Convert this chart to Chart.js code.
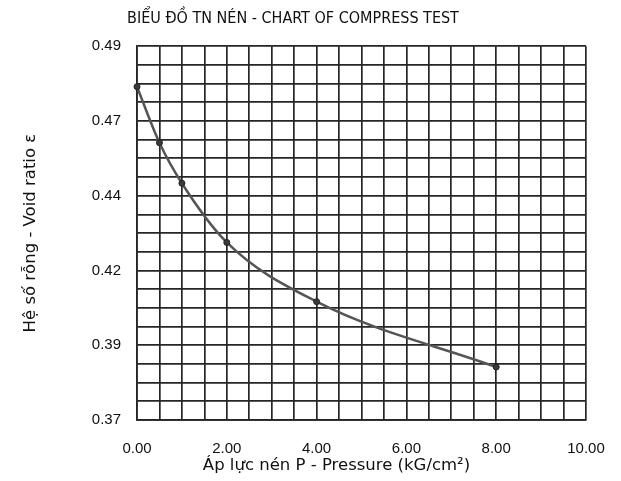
<!DOCTYPE html>
<html>
<head>
<meta charset="utf-8">
<script src="https://cdn.jsdelivr.net/npm/chart.js@4"></script>
<style>
  html, body { margin: 0; padding: 0; background: #fff; }
  #wrap { width: 621px; height: 481px; }
</style>
</head>
<body>
<div id="wrap"><canvas id="c" width="621" height="481"></canvas></div>
<script>
const chartTitle = 'BIỂU ĐỒ TN NÉN - CHART OF COMPRESS TEST';
const xAxisTitle = 'Áp lực nén P - Pressure (kG/cm²)';
const yAxisTitle = 'Hệ số rỗng - Void ratio ε';
const pressure = [0, 0.5, 1, 2, 4, 8];
const voidRatio = [0.477, 0.459, 0.446, 0.427, 0.408, 0.387];
const xTickLabels = ['0.00', '2.00', '4.00', '6.00', '8.00', '10.00'];
const yTickLabels = ['0.37', '0.39', '0.42', '0.44', '0.47', '0.49'];

const gridColor = '#262626';
const tickFont = { family: 'Liberation Sans, Arial, sans-serif', size: 15 };
const axisTitleFont = { family: 'DejaVu Sans, sans-serif', size: 16.5 };

const xTitlePlugin = {
  id: 'xTitle',
  afterDraw(chart) {
    const { ctx, chartArea } = chart;
    ctx.save();
    ctx.font = '16.5px "DejaVu Sans", sans-serif';
    ctx.fillStyle = '#111';
    ctx.textAlign = 'center';
    ctx.textBaseline = 'middle';
    ctx.fillText(xAxisTitle, (chartArea.left + chartArea.right) / 2 - 25, chartArea.bottom + 46);
    ctx.restore();
  }
};

new Chart(document.getElementById('c'), {
  type: 'scatter',
  data: {
    datasets: [{
      data: pressure.map((p, i) => ({ x: p, y: voidRatio[i] })),
      showLine: true,
      clip: false,
      borderColor: '#555',
      borderWidth: 2.5,
      cubicInterpolationMode: 'monotone',
      pointRadius: 3,
      pointBackgroundColor: '#3a3a3a',
      pointBorderColor: '#222',
      pointBorderWidth: 1
    }]
  },
  options: {
    responsive: false,
    animation: false,
    layout: { padding: { left: 0, right: 35, top: 0, bottom: 0 } },
    plugins: {
      legend: { display: false },
      tooltip: { enabled: false },
      title: {
        display: true,
        text: chartTitle,
        color: '#111',
        font: { family: 'Liberation Sans Narrow, DejaVu Sans Condensed, sans-serif', size: 16, weight: 'normal' },
        padding: { top: 9, bottom: 18 }
      }
    },
    scales: {
      x: {
        type: 'linear',
        min: 0,
        max: 10,
        afterFit: s => { s.height = 61; s.paddingRight = 0; s.paddingLeft = 0; },
        ticks: {
          stepSize: 0.5,
          autoSkip: false,
          maxRotation: 0,
          color: '#111',
          font: tickFont,
          padding: 20,
          callback: (v, i) => (i % 4 === 0 ? xTickLabels[i / 4] : '')
        },
        grid: { color: gridColor, lineWidth: 1.7, drawTicks: false },
        border: { color: gridColor, width: 1.7 },
        title: { display: false }
      },
      y: {
        type: 'linear',
        min: 0.37,
        max: 0.49,
        afterFit: s => { s.width = 137; },
        ticks: {
          stepSize: 0.006,
          autoSkip: false,
          color: '#111',
          font: tickFont,
          padding: 16,
          callback: (v, i) => (i % 4 === 0 ? yTickLabels[i / 4] : '')
        },
        grid: { color: gridColor, lineWidth: 1.7, drawTicks: false },
        border: { color: gridColor, width: 1.7 },
        title: {
          display: true,
          text: yAxisTitle,
          color: '#111',
          font: axisTitleFont,
          padding: { top: 21, bottom: 0 }
        }
      }
    }
  },
  plugins: [xTitlePlugin]
});
</script>
</body>
</html>
